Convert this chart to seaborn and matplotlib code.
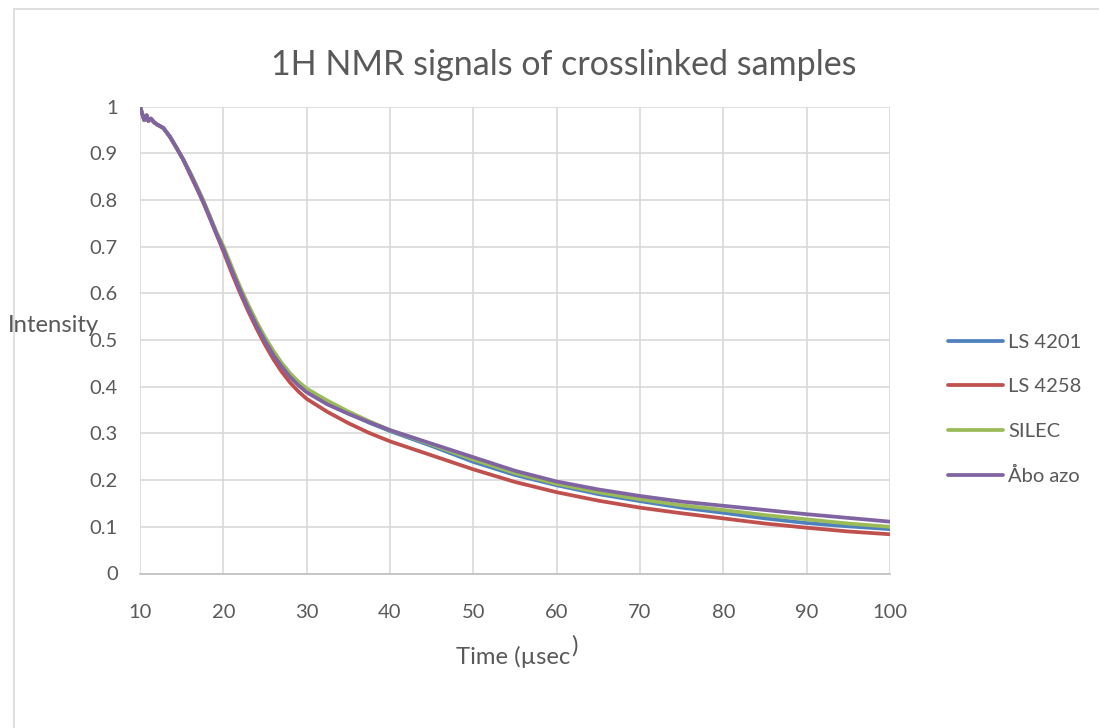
import numpy as np
import pandas as pd
import matplotlib
matplotlib.use("Agg")
import matplotlib.pyplot as plt
import seaborn as sns
from matplotlib.patches import Rectangle
from matplotlib.lines import Line2D

# ---------------- data ----------------
time_early = [10, 10.5, 10.8, 11.0, 11.3, 11.7, 12.0, 12.8, 13.6, 14.4, 15.2, 16.0,
              16.8, 17.6, 18.4, 19.2]
early_vals = [1.0, 0.971, 0.981, 0.969, 0.974, 0.966, 0.962, 0.954, 0.935, 0.911,
              0.886, 0.857, 0.827, 0.796, 0.762, 0.727]

time_late = [20, 21, 22, 23, 24, 25, 26, 27, 28, 29, 30, 32.5, 35, 37.5, 40, 45, 50,
             55, 60, 65, 70, 75, 80, 85, 90, 95, 100]

ls4201_late = [0.697, 0.652, 0.609, 0.569, 0.533, 0.500, 0.470, 0.445, 0.423, 0.405,
               0.390, 0.364, 0.343, 0.323, 0.305, 0.273, 0.239, 0.211, 0.189, 0.170,
               0.155, 0.141, 0.130, 0.118, 0.108, 0.101, 0.095]
ls4258_late = [0.690, 0.644, 0.601, 0.561, 0.524, 0.490, 0.459, 0.432, 0.409, 0.390,
               0.374, 0.346, 0.322, 0.301, 0.283, 0.253, 0.223, 0.196, 0.174, 0.156,
               0.141, 0.129, 0.118, 0.107, 0.098, 0.090, 0.084]
silec_late = [0.701, 0.657, 0.614, 0.575, 0.539, 0.506, 0.477, 0.451, 0.429, 0.411,
              0.396, 0.370, 0.347, 0.326, 0.307, 0.276, 0.244, 0.215, 0.192, 0.174,
              0.159, 0.146, 0.136, 0.125, 0.116, 0.107, 0.100]
abo_late = [0.695, 0.650, 0.607, 0.567, 0.531, 0.498, 0.468, 0.443, 0.421, 0.403,
            0.388, 0.362, 0.342, 0.324, 0.307, 0.278, 0.249, 0.220, 0.197, 0.180,
            0.166, 0.154, 0.145, 0.136, 0.127, 0.119, 0.111]

series_names = ["LS 4201", "LS 4258", "SILEC", "Åbo azo"]
series_late = [ls4201_late, ls4258_late, silec_late, abo_late]
early_offsets = [0.0, -0.002, 0.003, 0.0]
colors = ["#4F81BD", "#C0504D", "#9BBB59", "#8064A2"]

title = "1H NMR signals of crosslinked samples"
x_ticks = [10, 20, 30, 40, 50, 60, 70, 80, 90, 100]
y_ticks = [0, 0.1, 0.2, 0.3, 0.4, 0.5, 0.6, 0.7, 0.8, 0.9, 1]
y_tick_labels = ["0", "0.1", "0.2", "0.3", "0.4", "0.5", "0.6", "0.7", "0.8", "0.9", "1"]

# ---------------- build long-form table ----------------
rows = []
for name, late, off in zip(series_names, series_late, early_offsets):
    for t, v in zip(time_early, early_vals):
        vv = v + (off if t >= 16 else 0.0)
        rows.append((name, t, vv))
    for t, v in zip(time_late, late):
        rows.append((name, t, v))
df = pd.DataFrame(rows, columns=["series", "time", "intensity"])

# ---------------- plot ----------------
sns.set_theme(style="white")
plt.rcParams["font.family"] = ["Lato", "DejaVu Sans"]

fig = plt.figure(figsize=(10.99, 7.28), dpi=100)
ax = fig.add_axes([140 / 1099, 1 - 573.5 / 728, 750 / 1099, 467 / 728])

sns.lineplot(data=df, x="time", y="intensity", hue="series", hue_order=series_names,
             palette=colors, linewidth=2.7, ax=ax, legend=False, sort=False,
             estimator=None)

ax.set_xlim(10, 100)
ax.set_ylim(0, 1)
ax.set_xticks(x_ticks)
ax.set_xticklabels([str(v) for v in x_ticks])
ax.set_yticks(y_ticks)
ax.set_yticklabels(y_tick_labels)
ax.grid(True, color="#d9d9d9", linewidth=1.2)
ax.set_axisbelow(True)
for s in ["top", "right", "left"]:
    ax.spines[s].set_visible(False)
ax.spines["bottom"].set_color("#bfbfbf")
ax.spines["bottom"].set_linewidth(1.2)
ax.tick_params(axis="both", length=0, labelsize=14.5, labelcolor="#595959")
ax.tick_params(axis="y", pad=16)
ax.tick_params(axis="x", pad=22)
ax.set_xlabel("")
ax.set_ylabel("")

# title
fig.text(564 / 1099, 1 - 65 / 728, title, ha="center", va="center",
         fontsize=24.5, color="#595959")
# axis labels
fig.text(8 / 1099, 1 - 326 / 728, "Intensity", ha="left", va="center",
         fontsize=17.2, color="#595959")
fig.text(570 / 1099, 1 - 657 / 728, "Time (µsec", ha="right", va="center",
         fontsize=17.2, color="#595959")
fig.text(571 / 1099, 1 - 646 / 728, ")", ha="left", va="center",
         fontsize=17.2, color="#595959")

# legend
handles = [Line2D([0], [0], color=c, linewidth=2.7) for c in colors]
leg = fig.legend(handles, series_names, loc="upper left",
                 bbox_to_anchor=(948 / 1099, 1 - 334 / 728), frameon=False,
                 fontsize=14.5, handlelength=2.75, handletextpad=0.25,
                 labelspacing=1.35, borderaxespad=0, borderpad=0)
for txt in leg.get_texts():
    txt.set_color("#595959")

# chart border
fig.patches.append(Rectangle((14 / 1099, -0.1), 1.2, 1 - 9 / 728 + 0.1,
                             transform=fig.transFigure, fill=False,
                             edgecolor="#d9d9d9", linewidth=1.2))

fig.savefig("out.png", dpi=100, facecolor="white")
